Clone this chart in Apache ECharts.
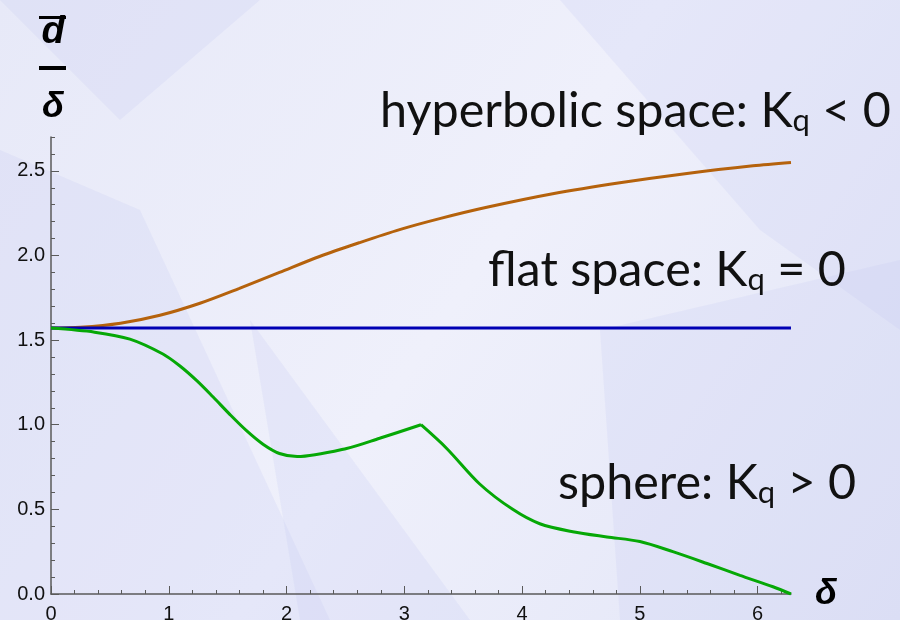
<!DOCTYPE html>
<html>
<head>
<meta charset="utf-8">
<script src="https://cdn.jsdelivr.net/npm/echarts@6/dist/echarts.min.js"></script>
<style>
  html, body { margin: 0; padding: 0; }
  #chart { width: 900px; height: 620px; }
</style>
</head>
<body>
<div id="chart"></div>
<script>
// curves, [delta, dbar/delta]
const hyperbolic = [
  [0, 1.571], [0.25, 1.576], [0.59, 1.60], [0.925, 1.647], [1.265, 1.718], [1.6, 1.806],
  [1.94, 1.90], [2.28, 1.994], [2.62, 2.076], [2.96, 2.153], [3.3, 2.218], [3.7, 2.285],
  [4.26, 2.365], [4.83, 2.43], [5.4, 2.485], [5.96, 2.53], [6.283, 2.55]
]
const flat = [[0, 1.571], [6.283, 1.571]]
// sphere curve has a corner at pi, so it is kept in two pieces
const sphereA = [
  [0, 1.571], [0.37, 1.547], [0.67, 1.506], [0.95, 1.418], [1.095, 1.347], [1.24, 1.259],
  [1.375, 1.165], [1.52, 1.06], [1.66, 0.965], [1.8, 0.885], [1.94, 0.83], [2.09, 0.812],
  [2.51, 0.86], [2.79, 0.92], [3.1416, 1.0]
]
const sphereB = [
  [3.1416, 1.0], [3.36, 0.86], [3.64, 0.65], [3.92, 0.50], [4.15, 0.415], [4.43, 0.368],
  [4.72, 0.337], [5.0, 0.31], [5.28, 0.25], [5.57, 0.18], [5.85, 0.11],
  [6.13, 0.043], [6.283, 0]
]

const xMajor = [0, 1, 2, 3, 4, 5, 6]
const yMajor = [0, 0.5, 1.0, 1.5, 2.0, 2.5]
const xMinor = []
for (let i = 0; i <= 31; i++) xMinor.push(+(i * 0.2).toFixed(1))

const labels = [
  { main: 'hyperbolic space: K', rest: ' < 0', x: 380, y: 136 },
  { main: 'flat space: K', rest: ' = 0', x: 488, y: 295 },
  { main: 'sphere: K', rest: ' > 0', x: 558, y: 508 }
]

const axisColor = '#5a5a5a'
const textFont = 'Lato'
const mathFont = 'Liberation Sans'

let chart = echarts.init(document.getElementById('chart'))

let bgShapes = [
  [[0, 150], [140, 210], [330, 620], [0, 620]],
  [[560, 0], [900, 0], [900, 330], [760, 230]],
  [[250, 320], [470, 620], [300, 620]],
  [[600, 330], [900, 260], [900, 620], [620, 620]],
  [[0, 0], [260, 0], [120, 120]]
].map(function (pts) {
  return {
    type: 'polygon',
    z: -10,
    silent: true,
    shape: { points: pts },
    style: { fill: 'rgba(196,201,240,0.22)' }
  }
})

let textEls = labels.map(function (l) {
  return {
    type: 'text',
    x: l.x,
    y: l.y,
    style: {
      text: '{a|' + l.main + '}{s|q}{a|' + l.rest + '}',
      verticalAlign: 'bottom',
      align: 'left',
      rich: {
        a: { fontSize: 48.5, fontFamily: textFont, fill: '#111', lineHeight: 56, verticalAlign: 'bottom' },
        s: { fontSize: 31, fontFamily: textFont, fill: '#111', lineHeight: 40, verticalAlign: 'bottom' }
      }
    }
  }
})

function curve(name, data, color) {
  return {
    name: name,
    type: 'line',
    data: data,
    smooth: 0.3,
    showSymbol: false,
    lineStyle: { color: color, width: 3 }
  }
}

let option = {
  backgroundColor: new echarts.graphic.LinearGradient(0, 0, 1, 1, [
    { offset: 0, color: '#e7e9f8' },
    { offset: 0.5, color: '#eff0fb' },
    { offset: 1, color: '#e2e5f7' }
  ]),
  animation: false,
  grid: { left: 51, right: 109, top: 137, bottom: 26, outerBoundsMode: 'none' },
  xAxis: [
    {
      type: 'value',
      min: 0,
      max: 2 * Math.PI,
      interval: 1,
      position: 'bottom',
      splitLine: { show: false },
      axisLine: { lineStyle: { color: axisColor, width: 1.5 } },
      axisTick: { inside: true, length: 8, customValues: xMajor, lineStyle: { color: axisColor } },
      axisLabel: {
        showMaxLabel: false,
        color: '#111',
        fontSize: 20,
        margin: 10,
        fontFamily: mathFont
      }
    },
    {
      type: 'value',
      min: 0,
      max: 2 * Math.PI,
      interval: 0.2,
      position: 'bottom',
      splitLine: { show: false },
      axisLine: { show: false },
      axisTick: { inside: true, length: 4, customValues: xMinor, lineStyle: { color: axisColor } },
      axisLabel: { show: false }
    }
  ],
  yAxis: [
    {
      type: 'value',
      min: 0,
      max: 2.7,
      interval: 0.5,
      position: 'left',
      splitLine: { show: false },
      axisLine: { show: true, lineStyle: { color: axisColor, width: 1.5 } },
      axisTick: { show: true, inside: true, length: 8, customValues: yMajor, lineStyle: { color: axisColor } },
      axisLabel: {
        showMaxLabel: false,
        color: '#111',
        fontSize: 20,
        margin: 6,
        fontFamily: mathFont,
        formatter: function (v) { return v.toFixed(1) }
      }
    },
    {
      type: 'value',
      min: 0,
      max: 2.7,
      interval: 0.1,
      position: 'left',
      splitLine: { show: false },
      axisLine: { show: false },
      axisTick: { show: true, inside: true, length: 4, lineStyle: { color: axisColor } },
      axisLabel: { show: false }
    }
  ],
  graphic: bgShapes.concat(textEls).concat([
    // y axis name: d-bar over delta
    { type: 'rect', shape: { x: 39, y: 16, width: 27, height: 3 }, style: { fill: '#000' } },
    { type: 'text', x: 53, y: 33, style: { text: 'd', font: 'italic bold 38px ' + mathFont, fill: '#000', align: 'center', verticalAlign: 'middle' } },
    { type: 'rect', shape: { x: 39, y: 66, width: 27, height: 4 }, style: { fill: '#000' } },
    { type: 'text', x: 53, y: 107, style: { text: 'δ', font: 'italic bold 36px ' + mathFont, fill: '#000', align: 'center', verticalAlign: 'middle' } },
    // x axis name
    { type: 'text', x: 826, y: 594, style: { text: 'δ', font: 'italic bold 36px ' + mathFont, fill: '#000', align: 'center', verticalAlign: 'middle' } }
  ]),
  series: [
    curve('hyperbolic', hyperbolic, '#b5620c'),
    {
      name: 'flat',
      type: 'line',
      data: flat,
      showSymbol: false,
      lineStyle: { color: '#0000b4', width: 3 }
    },
    curve('sphere', sphereA, '#06a806'),
    curve('sphere', sphereB, '#06a806')
  ]
}
chart.setOption(option)
</script>
</body>
</html>
